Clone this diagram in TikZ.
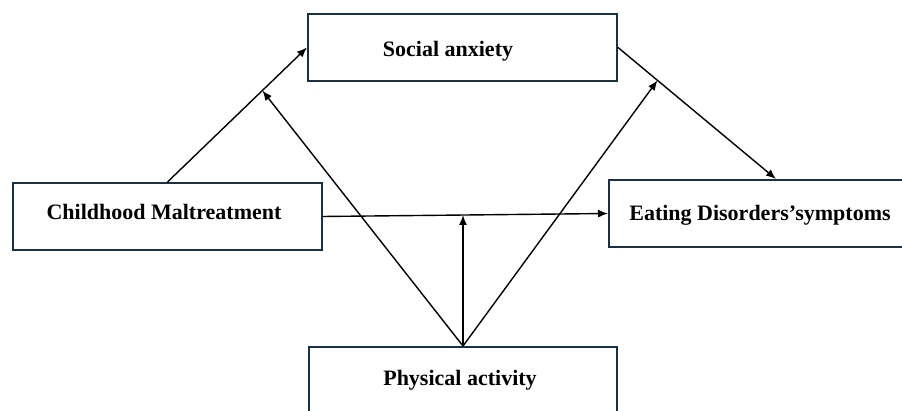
\documentclass[tikz,border=0pt]{standalone}
\usepackage{fontspec}
\setmainfont{Liberation Serif}
\usetikzlibrary{calc,arrows.meta}
\definecolor{boxline}{RGB}{28,48,68}

\begin{document}
\begin{tikzpicture}[x=0.5pt,y=-0.5pt,
    box/.style={draw=boxline,line width=1pt,rectangle,minimum height=33.5pt,inner sep=0pt},
    txt/.style={font=\fontsize{11}{13}\selectfont\bfseries,anchor=base,inner sep=0pt},
    arr/.style={line width=0.7pt,-{Latex[length=5pt,width=4pt]}}]
                \useasboundingbox (0,0) rectangle (902,411);
                \clip (0,0) rectangle (902,411);
                \node[box,minimum width=154.5pt] (soc) at (462.5,47.5) {};
                \node[box,minimum width=154.5pt] (cm) at (167.5,216.5) {};
                \node[box,minimum width=154pt] (pa) at (463,380.5) {};
                % right end of this box lies beyond the page
                \node[box,minimum width=200pt,anchor=west] (ed) at (608,213.5) {};
                \coordinate (edN) at (776,180);
                \node[txt] (socT) at (448,57) {Social anxiety};
                \node[txt] (cmT) at (164,220) {Childhood Maltreatment};
                \node[txt] (edT) at (760,221) {Eating Disorders’symptoms};
                \node[txt] (paT) at (460,386) {Physical activity};

                \draw[arr] (cm.north) -- (soc.west);
                \draw[arr] (soc.east) -- (ed.north west -| edN);
                \draw[arr] (cm.east) -- (ed.west);
                \coordinate (m1) at ($(cm.north)!0.68!(soc.west)$);
                \coordinate (m3) at ($(soc.east)!0.25!(ed.north west -| edN)$);
                \coordinate (m5) at (pa.north |- {$(cm.east)!0.5!(ed.west)$});
                \foreach \t in {m1,m3,m5}
                    \draw[arr] (pa.north) -- (\t);
\end{tikzpicture}
\end{document}
